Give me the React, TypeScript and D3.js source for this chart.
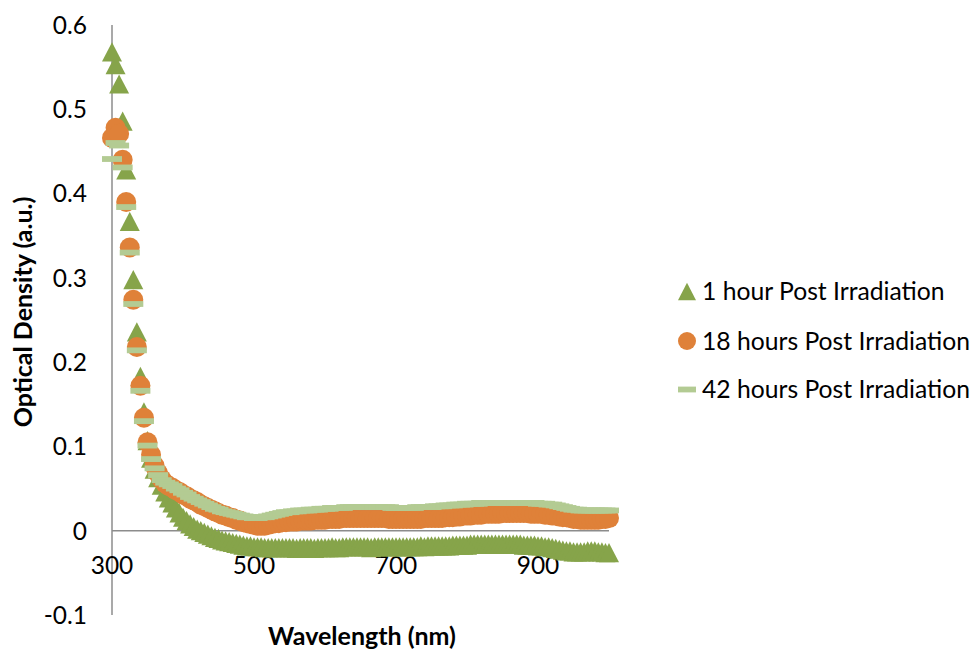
import React from "react";
import * as d3 from "d3";

// Sampling grid of the spectrophotometer (nm)
const WAVELENGTHS = [
  300, 305, 310, 315, 320, 325, 330, 335, 340, 345,
  350, 355, 360, 365, 370, 375, 380, 385, 390, 395,
  400, 405, 410, 415, 420, 425, 430, 435, 440, 445,
  450, 455, 460, 465, 470, 475, 480, 485, 490, 495,
  500, 505, 510, 515, 520, 525, 530, 535, 540, 545,
  550, 555, 560, 565, 570, 575, 580, 585, 590, 595,
  600, 605, 610, 615, 620, 625, 630, 635, 640, 645,
  650, 655, 660, 665, 670, 675, 680, 685, 690, 695,
  700, 705, 710, 715, 720, 725, 730, 735, 740, 745,
  750, 755, 760, 765, 770, 775, 780, 785, 790, 795,
  800, 805, 810, 815, 820, 825, 830, 835, 840, 845,
  850, 855, 860, 865, 870, 875, 880, 885, 890, 895,
  900, 905, 910, 915, 920, 925, 930, 935, 940, 945,
  950, 955, 960, 965, 970, 975, 980, 985, 990, 995,
  1000,
];

const ONE_HOUR = [
  0.568, 0.553, 0.530, 0.486, 0.428, 0.367, 0.298, 0.236, 0.183, 0.141,
  0.107, 0.086, 0.073, 0.063, 0.054, 0.046, 0.039, 0.033, 0.027, 0.021,
  0.016, 0.012, 0.008, 0.005, 0.002, 0.000, -0.002, -0.004, -0.006, -0.008,
  -0.009, -0.011, -0.012, -0.013, -0.014, -0.015, -0.016, -0.017, -0.018, -0.018,
  -0.019, -0.019, -0.019, -0.020, -0.020, -0.020, -0.020, -0.020, -0.020, -0.020,
  -0.020, -0.020, -0.021, -0.020, -0.020, -0.020, -0.020, -0.021, -0.020, -0.020,
  -0.020, -0.020, -0.019, -0.020, -0.020, -0.019, -0.019, -0.019, -0.019, -0.019,
  -0.019, -0.019, -0.019, -0.020, -0.019, -0.019, -0.019, -0.019, -0.019, -0.019,
  -0.019, -0.019, -0.019, -0.019, -0.019, -0.019, -0.019, -0.018, -0.019, -0.018,
  -0.018, -0.018, -0.018, -0.018, -0.018, -0.018, -0.017, -0.017, -0.017, -0.017,
  -0.017, -0.016, -0.016, -0.016, -0.016, -0.016, -0.016, -0.016, -0.016, -0.016,
  -0.016, -0.016, -0.016, -0.016, -0.016, -0.016, -0.017, -0.017, -0.017, -0.017,
  -0.018, -0.018, -0.019, -0.019, -0.020, -0.021, -0.022, -0.023, -0.024, -0.024,
  -0.025, -0.025, -0.025, -0.025, -0.024, -0.024, -0.024, -0.025, -0.025, -0.026,
  -0.026,
];

const EIGHTEEN_HOURS = [
  0.466, 0.478, 0.471, 0.440, 0.390, 0.336, 0.274, 0.218, 0.172, 0.134,
  0.105, 0.090, 0.077, 0.068, 0.061, 0.056, 0.053, 0.051, 0.048, 0.046,
  0.043, 0.041, 0.038, 0.036, 0.034, 0.031, 0.029, 0.027, 0.025, 0.023,
  0.021, 0.019, 0.018, 0.016, 0.015, 0.013, 0.012, 0.010, 0.009, 0.008,
  0.007, 0.006, 0.006, 0.006, 0.007, 0.008, 0.009, 0.009, 0.010, 0.010,
  0.011, 0.011, 0.011, 0.012, 0.012, 0.012, 0.012, 0.013, 0.013, 0.013,
  0.013, 0.014, 0.014, 0.014, 0.014, 0.015, 0.015, 0.015, 0.015, 0.015,
  0.015, 0.015, 0.015, 0.015, 0.015, 0.015, 0.015, 0.015, 0.014, 0.014,
  0.014, 0.014, 0.014, 0.014, 0.014, 0.014, 0.014, 0.014, 0.015, 0.015,
  0.015, 0.015, 0.015, 0.015, 0.016, 0.016, 0.016, 0.017, 0.017, 0.018,
  0.018, 0.018, 0.019, 0.019, 0.019, 0.020, 0.020, 0.020, 0.020, 0.020,
  0.021, 0.021, 0.021, 0.021, 0.021, 0.021, 0.021, 0.021, 0.020, 0.020,
  0.020, 0.020, 0.019, 0.019, 0.018, 0.018, 0.017, 0.016, 0.016, 0.015,
  0.014, 0.014, 0.013, 0.013, 0.013, 0.013, 0.013, 0.013, 0.014, 0.014,
  0.015,
];

const FORTY_TWO_HOURS = [
  0.441, 0.460, 0.457, 0.431, 0.384, 0.330, 0.269, 0.214, 0.166, 0.130,
  0.101, 0.085, 0.074, 0.066, 0.060, 0.057, 0.055, 0.053, 0.050, 0.048,
  0.045, 0.043, 0.040, 0.038, 0.036, 0.034, 0.032, 0.030, 0.028, 0.026,
  0.025, 0.023, 0.022, 0.021, 0.020, 0.019, 0.018, 0.017, 0.016, 0.016,
  0.015, 0.015, 0.016, 0.016, 0.017, 0.018, 0.019, 0.020, 0.021, 0.022,
  0.022, 0.023, 0.023, 0.024, 0.024, 0.024, 0.025, 0.025, 0.025, 0.026,
  0.026, 0.026, 0.027, 0.027, 0.027, 0.027, 0.028, 0.028, 0.028, 0.028,
  0.028, 0.028, 0.028, 0.028, 0.028, 0.028, 0.028, 0.028, 0.028, 0.027,
  0.027, 0.027, 0.027, 0.027, 0.027, 0.027, 0.028, 0.028, 0.028, 0.028,
  0.028, 0.029, 0.029, 0.029, 0.030, 0.030, 0.030, 0.031, 0.031, 0.031,
  0.032, 0.032, 0.032, 0.032, 0.033, 0.033, 0.033, 0.033, 0.033, 0.033,
  0.033, 0.033, 0.033, 0.033, 0.033, 0.033, 0.033, 0.033, 0.033, 0.033,
  0.032, 0.032, 0.032, 0.031, 0.031, 0.030, 0.029, 0.028, 0.027, 0.026,
  0.025, 0.025, 0.024, 0.024, 0.024, 0.024, 0.024, 0.024, 0.024, 0.024,
  0.024,
];

const X_TICKS = [300, 500, 700, 900];
const Y_TICKS = [-0.1, 0, 0.1, 0.2, 0.3, 0.4, 0.5, 0.6];
const Y_TICK_LABELS = ["-0.1", "0", "0.1", "0.2", "0.3", "0.4", "0.5", "0.6"];

const SERIES_NAMES = [
  "1 hour Post Irradiation",
  "18 hours Post Irradiation",
  "42 hours Post Irradiation",
];
const SERIES_COLORS = ["#86A44A", "#DF8139", "#B3CB93"];

const FONT = "Lato, 'Open Sans', 'DejaVu Sans', sans-serif";

const triangle = (s: number) =>
  `M0,${-s * 0.48}L${s / 2},${s * 0.48}L${-s / 2},${s * 0.48}Z`;

function Marker({ kind, cx, cy, size, color }: { kind: number; cx: number; cy: number; size: number; color: string }) {
  if (kind === 0) {
    return <path d={triangle(size)} transform={`translate(${cx},${cy})`} fill={color} />;
  }
  if (kind === 1) {
    return <circle cx={cx} cy={cy} r={size / 2} fill={color} />;
  }
  return <rect x={cx - size / 2} y={cy - 2.9} width={size} height={5.8} fill={color} />;
}

export default function App() {
  const x = d3.scaleLinear().domain([300, 1000]).range([112, 609]);
  const y = d3.scaleLinear().domain([-0.1, 0.6]).range([615, 25]);

  const series = [ONE_HOUR, EIGHTEEN_HOURS, FORTY_TWO_HOURS];
  const legendBaselines = [300, 349.5, 398];

  return (
    <svg
      width={975}
      height={652}
      style={{ position: "absolute", left: 0, top: 0, background: "#fff" }}
      fontFamily={FONT}
    >
      {/* axes */}
      <line x1={x(300)} x2={x(300)} y1={y(0.6)} y2={y(-0.1)} stroke="#8c8c8c" strokeWidth={1.5} />
      <line x1={x(300)} x2={x(1000)} y1={y(0)} y2={y(0)} stroke="#8c8c8c" strokeWidth={1.5} />

      {/* y tick labels */}
      {Y_TICKS.map((t, i) => (
        <text key={`y${t}`} x={87} y={y(t)} dy="0.36em" textAnchor="end" fontSize={24.5} fill="#000">
          {Y_TICK_LABELS[i]}
        </text>
      ))}

      {/* x tick labels */}
      {X_TICKS.map((t) => (
        <text key={`x${t}`} x={x(t)} y={574} textAnchor="middle" fontSize={24.5} fill="#000">
          {t}
        </text>
      ))}

      {/* markers */}
      {series.map((vals, si) => (
        <g key={`s${si}`}>
          {vals.map((v, i) => (
            <Marker key={i} kind={si} cx={x(WAVELENGTHS[i])} cy={y(v)} size={20} color={SERIES_COLORS[si]} />
          ))}
        </g>
      ))}

      {/* axis titles */}
      <text x={362} y={645} textAnchor="middle" fontSize={25} fontWeight="bold" fill="#000">
        Wavelength (nm)
      </text>
      <text
        transform="translate(32,312) rotate(-90)"
        textAnchor="middle"
        fontSize={25}
        fontWeight="bold"
        fill="#000"
      >
        Optical Density (a.u.)
      </text>

      {/* legend */}
      {SERIES_NAMES.map((name, i) => (
        <g key={name}>
          <Marker kind={i} cx={687} cy={legendBaselines[i] - 8.5} size={18} color={SERIES_COLORS[i]} />
          <text x={702} y={legendBaselines[i]} fontSize={24.7} fill="#000">
            {name}
          </text>
        </g>
      ))}
    </svg>
  );
}
